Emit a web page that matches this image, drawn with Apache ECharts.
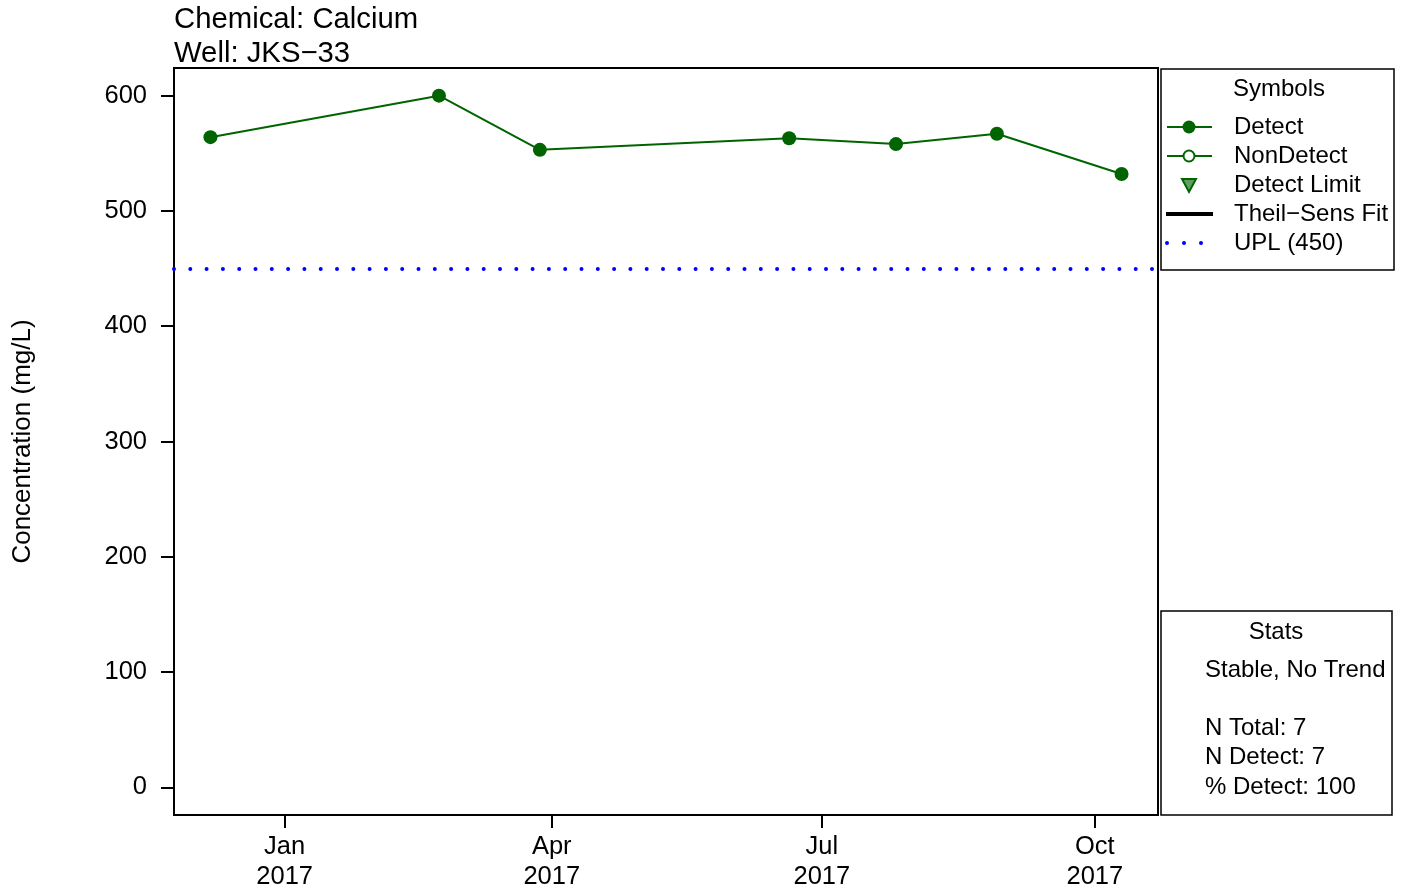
<!DOCTYPE html>
<html>
<head>
<meta charset="utf-8">
<title>Calcium – JKS-33</title>
<script src="https://cdn.jsdelivr.net/npm/echarts@6/dist/echarts.min.js"></script>
<style>
  html, body { margin: 0; padding: 0; background: #fff; }
  #chart { width: 1402px; height: 894px; }
</style>
</head>
<body>
<div id="chart"></div>
<script>
// Sampling dates and measured calcium concentrations (mg/L)
const sampleDates = ['2016-12-07', '2017-02-22', '2017-03-28', '2017-06-20', '2017-07-26', '2017-08-29', '2017-10-10'];
const calcium = [564, 600, 553, 563, 558, 567, 532];
const uplValue = 450;

// Axis ticks
const xTickDates = ['2017-01-01', '2017-04-01', '2017-07-01', '2017-10-01'];
const yTicks = [0, 100, 200, 300, 400, 500, 600];
const monthNames = ['Jan', 'Feb', 'Mar', 'Apr', 'May', 'Jun', 'Jul', 'Aug', 'Sep', 'Oct', 'Nov', 'Dec'];

// Stats panel
const statsTrend = 'Stable, No Trend';
const statsLines = ['N Total: 7', 'N Detect: 7', '% Detect: 100'];

const FONT = '"Liberation Sans", Arial, Helvetica, sans-serif';
const GREEN = '#006400';

function toMs(s) {
  const p = s.split('-').map(Number);
  return Date.UTC(p[0], p[1] - 1, p[2]);
}

const xs = sampleDates.map(toMs);
const points = xs.map((x, i) => [x, calcium[i]]);

// 4% padding on both axes
const xLo = Math.min(...xs), xHi = Math.max(...xs);
const xPad = (xHi - xLo) * 0.04;
const yLo = Math.min(0, ...calcium), yHi = Math.max(uplValue, ...calcium);
const yPad = (yHi - yLo) * 0.04;

const chart = echarts.init(document.getElementById('chart'), null, { renderer: 'canvas' });

// Legend ("Symbols") panel geometry
const lx = 1189, tx = 1234;
const rows = { title: 89, detect: 127, nondetect: 156, limit: 185, fit: 214, upl: 243 };

const legendGraphics = [
  { type: 'rect', shape: { x: 1161, y: 69, width: 233, height: 201 },
    style: { fill: '#fff', stroke: '#000', lineWidth: 1.5 } },
  { type: 'text', x: 1279, y: rows.title,
    style: { text: 'Symbols', font: '24px ' + FONT, fill: '#000', align: 'center', verticalAlign: 'middle' } },
  // Detect
  { type: 'line', shape: { x1: 1167, y1: rows.detect, x2: 1212, y2: rows.detect },
    style: { stroke: GREEN, lineWidth: 2 } },
  { type: 'circle', shape: { cx: lx, cy: rows.detect, r: 6.5 }, style: { fill: GREEN } },
  { type: 'text', x: tx, y: rows.detect,
    style: { text: 'Detect', font: '24px ' + FONT, fill: '#000', verticalAlign: 'middle' } },
  // NonDetect
  { type: 'line', shape: { x1: 1167, y1: rows.nondetect, x2: 1212, y2: rows.nondetect },
    style: { stroke: GREEN, lineWidth: 2 } },
  { type: 'circle', shape: { cx: lx, cy: rows.nondetect, r: 5.5 },
    style: { fill: '#fff', stroke: GREEN, lineWidth: 2 } },
  { type: 'text', x: tx, y: rows.nondetect,
    style: { text: 'NonDetect', font: '24px ' + FONT, fill: '#000', verticalAlign: 'middle' } },
  // Detect Limit
  { type: 'polygon', shape: { points: [[lx - 7, rows.limit - 6], [lx + 7, rows.limit - 6], [lx, rows.limit + 7]] },
    style: { fill: '#5f9f5f', stroke: GREEN, lineWidth: 2 } },
  { type: 'text', x: tx, y: rows.limit,
    style: { text: 'Detect Limit', font: '24px ' + FONT, fill: '#000', verticalAlign: 'middle' } },
  // Theil-Sens fit
  { type: 'line', shape: { x1: 1166, y1: rows.fit, x2: 1213, y2: rows.fit },
    style: { stroke: '#000', lineWidth: 4 } },
  { type: 'text', x: tx, y: rows.fit,
    style: { text: 'Theil\u2212Sens Fit', font: '24px ' + FONT, fill: '#000', verticalAlign: 'middle' } },
  // UPL
  { type: 'circle', shape: { cx: 1167, cy: rows.upl, r: 2 }, style: { fill: '#0000ff' } },
  { type: 'circle', shape: { cx: 1184, cy: rows.upl, r: 2 }, style: { fill: '#0000ff' } },
  { type: 'circle', shape: { cx: 1201, cy: rows.upl, r: 2 }, style: { fill: '#0000ff' } },
  { type: 'text', x: tx, y: rows.upl,
    style: { text: 'UPL (' + uplValue + ')', font: '24px ' + FONT, fill: '#000', verticalAlign: 'middle' } }
];

const statsGraphics = [
  { type: 'rect', shape: { x: 1161, y: 611, width: 231, height: 204 },
    style: { fill: '#fff', stroke: '#000', lineWidth: 1.5 } },
  { type: 'text', x: 1276, y: 632,
    style: { text: 'Stats', font: '24px ' + FONT, fill: '#000', align: 'center', verticalAlign: 'middle' } },
  { type: 'text', x: 1205, y: 670,
    style: { text: statsTrend, font: '24px ' + FONT, fill: '#000', verticalAlign: 'middle' } }
].concat(statsLines.map((t, i) => ({
  type: 'text', x: 1205, y: 728 + i * 29.5,
  style: { text: t, font: '24px ' + FONT, fill: '#000', verticalAlign: 'middle' }
})));

chart.setOption({
  animation: false,
  backgroundColor: '#fff',
  textStyle: { fontFamily: FONT },
  title: {
    text: 'Chemical: Calcium\nWell: JKS\u221233',
    left: 169,
    top: -2,
    textStyle: { fontSize: 29.3, fontWeight: 'normal', color: '#000', lineHeight: 34, fontFamily: FONT }
  },
  grid: {
    left: 174, top: 68, width: 984, height: 747,
    show: true, borderColor: '#000', borderWidth: 2, backgroundColor: 'transparent'
  },
  xAxis: {
    type: 'value',
    min: xLo - xPad,
    max: xHi + xPad,
    splitLine: { show: false },
    axisLine: { show: false, onZero: false },
    axisTick: { show: true, length: 13, lineStyle: { color: '#000', width: 2 }, customValues: xTickDates.map(toMs) },
    axisLabel: {
      customValues: xTickDates.map(toMs),
      margin: 17,
      fontSize: 25.5,
      lineHeight: 30,
      color: '#000',
      fontFamily: FONT,
      formatter: function (v) {
        const d = new Date(v);
        return monthNames[d.getUTCMonth()] + '\n' + d.getUTCFullYear();
      }
    }
  },
  yAxis: {
    type: 'value',
    min: yLo - yPad,
    max: yHi + yPad,
    name: 'Concentration (mg/L)',
    nameLocation: 'middle',
    nameGap: 138,
    nameTextStyle: { fontSize: 26, color: '#000', fontFamily: FONT },
    splitLine: { show: false },
    axisLine: { show: false, onZero: false },
    axisTick: { show: true, length: 13, lineStyle: { color: '#000', width: 2 }, customValues: yTicks },
    axisLabel: { customValues: yTicks, margin: 27, fontSize: 25.5, color: '#000', fontFamily: FONT }
  },
  series: [
    {
      name: 'Detect',
      type: 'line',
      data: points,
      symbol: 'circle',
      symbolSize: 14,
      lineStyle: { color: GREEN, width: 2 },
      itemStyle: { color: GREEN },
      z: 3,
      markLine: {
        silent: true,
        symbol: 'none',
        label: { show: false },
        lineStyle: { color: '#0000ff', width: 4, type: [0, 16.3], cap: 'round' },
        data: [{ yAxis: uplValue }]
      }
    }
  ],
  graphic: legendGraphics.concat(statsGraphics)
});
</script>
</body>
</html>
